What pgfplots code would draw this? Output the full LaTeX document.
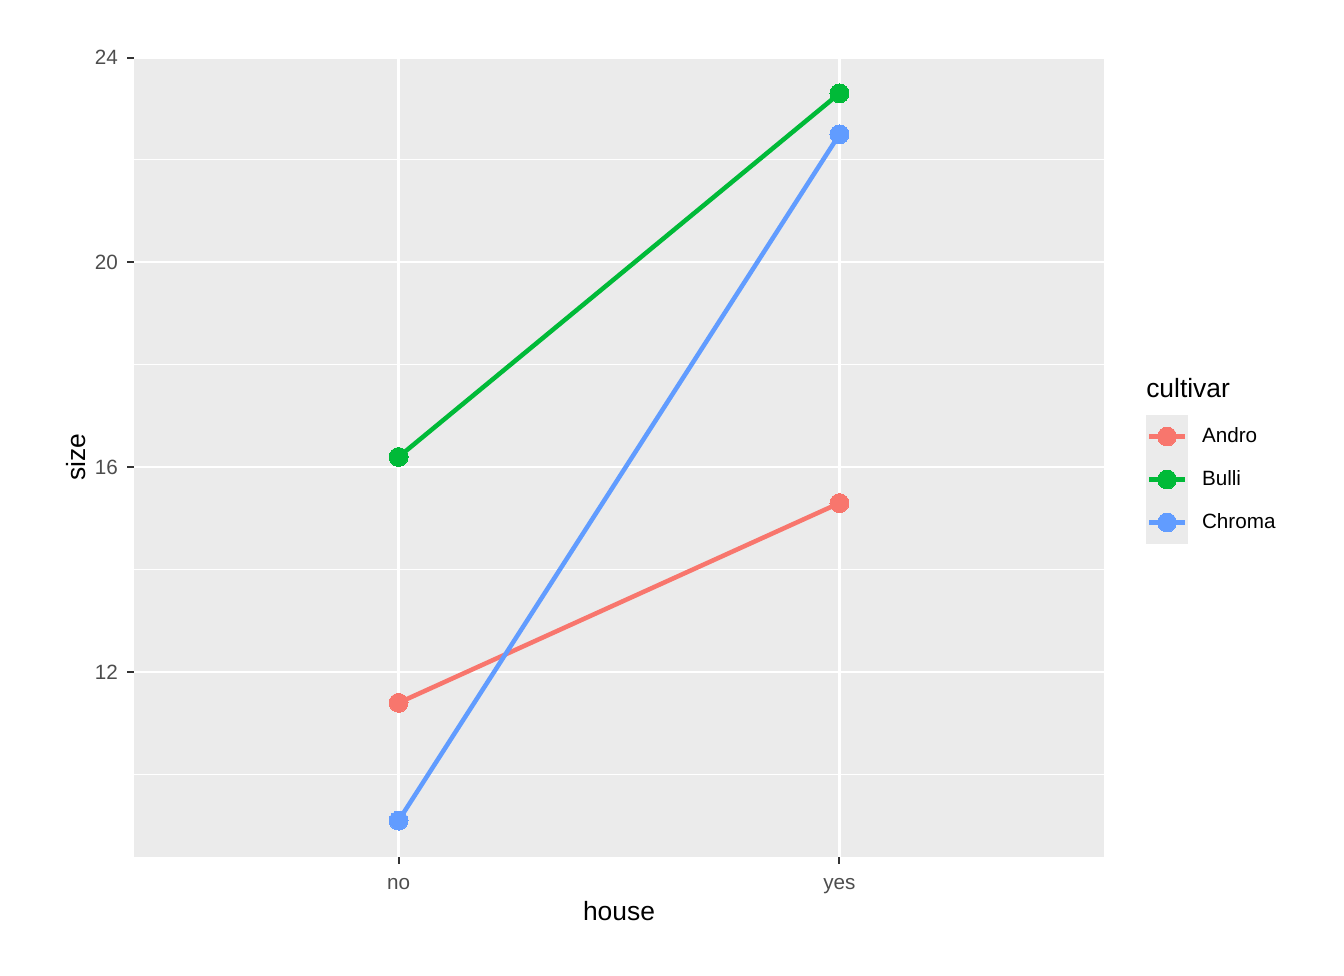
\documentclass[border=0pt]{standalone}
\usepackage{pgfplots}
\pgfplotsset{compat=1.18}
\usepackage{fontspec}
\setmainfont{Liberation Sans}
\definecolor{panelbg}{HTML}{EBEBEB}
\definecolor{gtick}{HTML}{4D4D4D}
\definecolor{gaxis}{HTML}{333333}
\definecolor{andro}{HTML}{F8766D}
\definecolor{bulli}{HTML}{00BA38}
\definecolor{chroma}{HTML}{619CFF}
\begin{document}
\begin{tikzpicture}
\begin{axis}[
  at={(0,0)}, anchor=south west, scale only axis,
  width=727.5pt, height=600pt,
  xmin=0.4, xmax=2.6, ymin=8.39, ymax=24.01,
  xtick={1,2}, xticklabels={no,yes},
  ytick={12,16,20,24}, yticklabels={12,16,20,24},
  minor ytick={10,14,18,22},
  xtick pos=bottom, ytick pos=left,
  axis background/.style={fill=panelbg},
  axis line style={draw=none},
  grid=both,
  major grid style={white, line width=1.6pt},
  minor grid style={white, line width=0.8pt},
  tick align=outside,
  major tick length=4.9pt,
  minor tick length=0pt,
  tick style={gaxis, line width=1.5pt},
  yticklabel style={font=\fontsize{15.5}{15.5}\selectfont, text=gtick, anchor=east, inner sep=0pt, xshift=-7pt},
  xticklabel style={font=\fontsize{15.5}{15.5}\selectfont, text=gtick, anchor=base, inner sep=0pt, yshift=-19.5pt},
  xlabel={house},
  xlabel style={font=\fontsize{19.8}{19.8}\selectfont, at={(axis description cs:0.5,-0.07875)}, anchor=base, inner sep=0pt},
  ylabel={size},
  ylabel style={font=\fontsize{19.8}{19.8}\selectfont, at={(axis description cs:-0.0505,0.5)}, anchor=base, inner sep=0pt, rotate=0},
  legend style={at={(axis description cs:1.0433,0.5525)}, anchor=north west, draw=none, fill=none,
    inner sep=0pt, outer sep=0pt, row sep=0pt, column sep=0pt,
    font=\fontsize{15.5}{15.5}\selectfont, nodes={inner sep=0pt, outer sep=0pt}},
  legend cell align=left,
  legend image code/.code={
    \fill[fill=panelbg, draw=none] (0pt,-16.125pt) rectangle (31.5pt,16.125pt);
    \path[draw=none, fill=none] (0pt,0pt) -- (42pt,0pt);
    \draw[mark repeat=2,mark phase=2] plot coordinates {(2.25pt,0pt) (15.75pt,0pt) (29.25pt,0pt)};
  },
]
\addplot[andro, line width=3.4pt, mark=*, mark size=7.1pt, mark options={solid, line width=0pt}] coordinates {(1,11.4) (2,15.3)};
\addlegendentry{Andro}
\addplot[bulli, line width=3.4pt, mark=*, mark size=7.1pt, mark options={solid, line width=0pt}] coordinates {(1,16.2) (2,23.3)};
\addlegendentry{Bulli}
\addplot[chroma, line width=3.4pt, mark=*, mark size=7.1pt, mark options={solid, line width=0pt}] coordinates {(1,9.1) (2,22.5)};
\addlegendentry{Chroma}
\end{axis}
\node[anchor=base west, inner sep=0pt, font=\fontsize{19.8}{19.8}\selectfont] at (759pt,344.8pt) {cultivar};
\path[use as bounding box] (-100.5pt,-88.5pt) rectangle (907.5pt,642.75pt);
\end{tikzpicture}
\end{document}
